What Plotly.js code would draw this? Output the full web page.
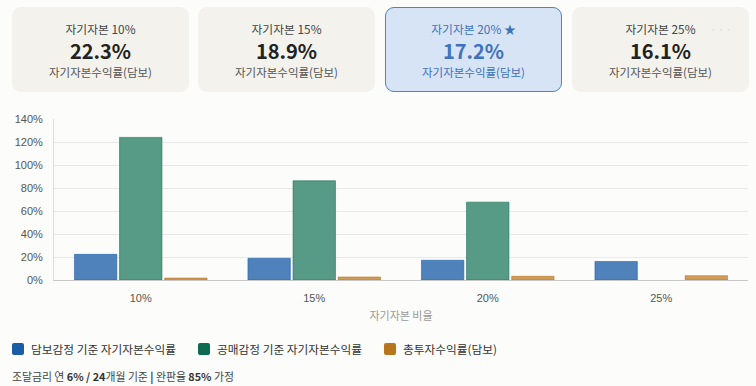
<!DOCTYPE html>
<html><head><meta charset="utf-8">
<script src="https://cdn.plot.ly/plotly-3.0.1.min.js"></script>
<style>
html,body{margin:0;padding:0;background:#fcfcfa;width:756px;height:386px;overflow:hidden;font-family:"Noto Sans CJK KR","Noto Sans",sans-serif;}
.card{position:absolute;top:7px;height:85px;width:177px;border-radius:9px;background:#f3f2ed;box-sizing:border-box;text-align:center;}
.card.sel{background:#d7e4f6;border:1px solid #4a84d0;}
.card.sel>div{margin-top:-1px;}
.t{position:absolute;left:0;right:0;top:15px;height:14px;line-height:14px;font-size:11.8px;color:#444;}
.v{position:absolute;left:0;right:0;top:33px;height:22px;line-height:22px;font-size:20px;font-weight:700;color:#222;}
.s{position:absolute;left:0;right:0;top:58px;height:14px;line-height:14px;font-size:11.5px;color:#555;}
.sel .t,.sel .s{color:#3d72bd;}
.sel .v{color:#3d72bd;}
.dots{position:absolute;right:16px;top:15px;line-height:14px;font-size:12px;color:#e2e1dc;letter-spacing:1px;}
#chart{position:absolute;left:0;top:100px;width:756px;height:240px;}
#legend{position:absolute;left:0;top:340px;width:756px;height:18px;}
.li{position:absolute;top:0;height:18px;line-height:18px;font-size:11.7px;color:#333;white-space:nowrap;}
.sw{position:absolute;left:0;top:3px;width:12px;height:12px;border-radius:2px;}
.lt{position:absolute;left:19px;top:0;}
#foot{position:absolute;left:12px;top:368px;font-size:10.85px;color:#444;white-space:nowrap;}
#foot b{font-weight:700;color:#333;}
</style></head>
<body>
<div id="cards"></div>
<div id="chart"></div>
<div id="legend"></div>
<div id="foot">조달금리 연 <b>6% / 24</b>개월 기준 <b>|</b> 완판율 <b>85%</b> 가정</div>
<script>
const categories = ["10%","15%","20%","25%"];
const seriesNames = ["담보감정 기준 자기자본수익률","공매감정 기준 자기자본수익률","총투자수익률(담보)"];
const collateralROE = [22.3, 18.9, 17.2, 16.1];
const auctionROE = [124, 86.3, 67.7, null];
const totalReturn = [1.7, 2.6, 3.2, 3.8];
const cardTitles = ["자기자본 10%","자기자본 15%","자기자본 20% ★","자기자본 25%"];
const cardValues = ["22.3%","18.9%","17.2%","16.1%"];
const cardSub = "자기자본수익률(담보)";
const selectedCard = 2;
const yTicks = [0,20,40,60,80,100,120,140];

const cardLeft = [12,198,385,572];
const cc = document.getElementById('cards');
cardTitles.forEach((t,i)=>{
  const d=document.createElement('div');
  d.className='card'+(i===selectedCard?' sel':'');
  d.style.left=cardLeft[i]+'px';
  d.innerHTML='<div class="t">'+t+'</div><div class="v">'+cardValues[i]+'</div><div class="s">'+cardSub+'</div>'+(i===3?'<div class="dots">···</div>':'');
  cc.appendChild(d);
});

const colors = ["#1a5ca8","#0f6b50","#b8761c"];
const fills = ["#4f82ba","#579a85","#d19a55"];
const edges = ["rgba(26,92,168,0.55)","rgba(15,107,80,0.55)","rgba(184,118,28,0.55)"];
const legendLeft = [12,198,384];
const lg = document.getElementById('legend');
seriesNames.forEach((n,i)=>{
  const d=document.createElement('div');
  d.className='li'; d.style.left=legendLeft[i]+'px';
  d.innerHTML='<div class="sw" style="background:'+colors[i]+'"></div><div class="lt">'+n+'</div>';
  lg.appendChild(d);
});

const data = [collateralROE, auctionROE, totalReturn].map((arr,i)=>({
  type:'bar', x:categories, y:arr, name:seriesNames[i],
  marker:{color:fills[i], line:{color:edges[i], width:1}},
  hoverinfo:'skip'
}));
const layout = {
  width:756, height:240,
  margin:{l:54,r:8,t:19,b:60},
  paper_bgcolor:'rgba(0,0,0,0)', plot_bgcolor:'rgba(0,0,0,0)',
  barmode:'group', bargap:0.22, bargroupgap:0.06,
  font:{family:'"Noto Sans CJK KR", sans-serif', size:11, color:'#555'},
  showlegend:false,
  xaxis:{type:'category', showline:true, linecolor:'#c8c8c8', linewidth:1, ticks:'outside', ticklen:8, tickcolor:'rgba(0,0,0,0)', showgrid:false,
    tickfont:{family:'"Liberation Sans", Arial, sans-serif', size:11, color:'#555'},
    title:{text:'자기자본 비율', font:{size:11,color:'#999'}, standoff:9}},
  yaxis:{range:[0,140], tickvals:yTicks, ticktext:yTicks.map(v=>v+'%'), showline:true, linecolor:'#dddddd',
    gridcolor:'#e8e8e6', zeroline:false, ticks:'outside', ticklen:8, tickcolor:'rgba(0,0,0,0)',
    tickfont:{family:'"Liberation Sans", Arial, sans-serif', size:11, color:'#555'}}
};
Plotly.newPlot('chart', data, layout, {displayModeBar:false, staticPlot:true});
</script>
</body></html>
